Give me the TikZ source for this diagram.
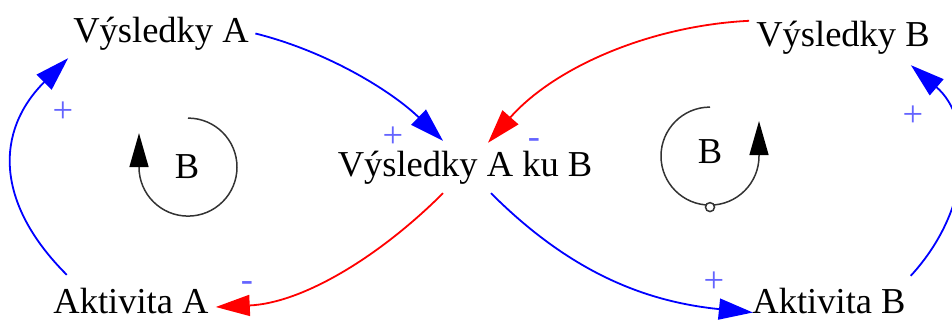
\documentclass[tikz,border=0pt]{standalone}
\usepackage{fontspec}
\setmainfont{Liberation Serif}
\usetikzlibrary{arrows.meta}
\definecolor{signc}{RGB}{100,100,255}
\begin{document}
\begin{tikzpicture}[x=1pt,y=-1pt,
  lbl/.style={font=\fontsize{36.5}{40}\selectfont, text height=24pt, text depth=8pt,
              inner xsep=5pt, inner ysep=1pt, anchor=base},
  loopl/.style={font=\fontsize{36.5}{40}\selectfont, inner sep=1pt, anchor=base},
  sgn/.style={font=\fontsize{36.5}{40}\selectfont, text=signc, inner sep=0pt, anchor=base},
  poslink/.style={blue, line width=1.8pt, -{Triangle[length=34pt,width=21pt]}},
  neglink/.style={red, line width=1.8pt, -{Triangle[length=34pt,width=21pt]}},
  loopst/.style={black!80, line width=1.5pt, -{Triangle[length=34pt,width=19pt,color=black,fill=black]}}
]
\useasboundingbox (0,0) rectangle (952,320);

% variables
\node[lbl] (va)  at (161,43)  {Výsledky A};
\node[lbl] (vb)  at (843,47)  {Výsledky B};
\node[lbl] (vab) at (465,177) {Výsledky A ku B};
\node[lbl] (aa)  at (131,313) {Aktivita A};
\node[lbl] (ab)  at (829,313) {Aktivita B};

% loop labels
\node[loopl] (l1) at (187,179) {B};
\node[loopl] (r1) at (710,164) {B};

% connectors
\draw[poslink] ([shift={(18.5,-13)}]aa.north west)
  .. controls +(-72,-72) and +(-73,73) .. ([shift={(0,6)}]va.south west);
\draw[poslink] ([shift={(1.5,-1.5)}]va.east)
  .. controls +(70.6,17.6) and +(-52.4,-50.6) .. ([shift={(-22,-11)}]vab.north);
\draw[neglink] ([shift={(-2,-1)}]vb.north west)
  .. controls +(-100,5) and +(66,-75) .. ([shift={(23,-9)}]vab.north);
\draw[neglink] ([shift={(-22,7)}]vab.south)
  .. controls +(-62,62) and +(88,-4) .. ([shift={(2,2)}]aa.east);
\draw[poslink] ([shift={(26,7)}]vab.south)
  .. controls +(77.8,77.8) and +(-109.5,-11) .. ([shift={(5.6,7.5)}]ab.west);
\draw[poslink] ([shift={(0,-12)}]ab.north east)
  .. controls +(63.5,-69) and +(62.5,53.6) .. ([shift={(-24,9)}]vb.south east);

% polarity signs
\node[sgn] (s1) at (63,123)  {+};
\node[sgn] (s2) at (393,148) {+};
\node[sgn] (s3) at (534,149) {-};
\node[sgn] (s4) at (247,291) {-};
\node[sgn] (s5) at (714,292) {+};
\node[sgn] (s6) at (913,127) {+};

% loop symbols
\draw[loopst] ([shift={(1,-49)}]l1.center) arc[start angle=-90, end angle=180, radius=49] -- ++(0,-34);
\draw[loopst] ([shift={(0,-45)}]r1.center) arc[start angle=-90, end angle=-360, radius=49] -- ++(0,-35);
\draw[black!80, line width=1.5pt, fill=white] ([shift={(0,55)}]r1.center) circle[radius=4.5];
\end{tikzpicture}
\end{document}
